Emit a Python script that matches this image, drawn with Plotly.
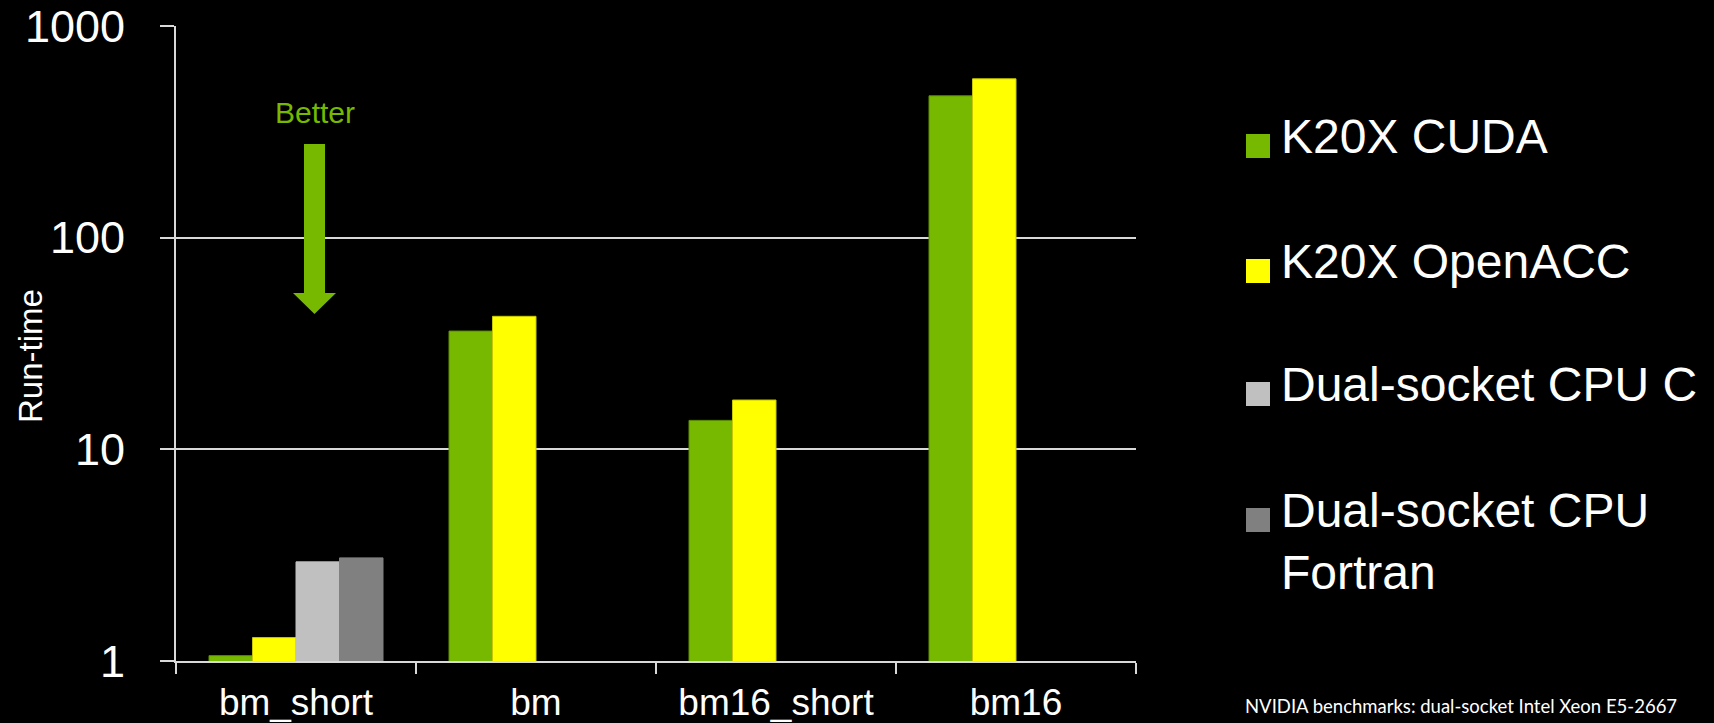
import plotly.graph_objects as go

# ---- data ----
categories = ["bm_short", "bm", "bm16_short", "bm16"]
series_names = ["K20X CUDA", "K20X OpenACC", "Dual-socket CPU C", "Dual-socket CPU<br>Fortran"]
k20x_cuda = [1.06, 36.2, 13.7, 468]
k20x_openacc = [1.29, 42.5, 17.1, 563]
cpu_c = [2.94, None, None, None]
cpu_fortran = [3.07, None, None, None]
y_tick_vals = [1, 10, 100, 1000]
y_tick_text = ["1", "10", "100", "1000"]

colors = ["#76B900", "#FFFF00", "#C0C0C0", "#808080"]
edge_colors = ["#5C9000", "#C8C800", "#C0C0C0", "#808080"]
series_values = [k20x_cuda, k20x_openacc, cpu_c, cpu_fortran]

W, H = 1714, 723
L, R, T, B = 176, 1136, 26, 661
FONT = "Arial, Liberation Sans, sans-serif"
GRID = "#D9D9D9"


def px(x):
    return (x - L) / (R - L)


def py(y):
    return (B - y) / (B - T)


fig = go.Figure()
for name, vals, c, ec in zip(series_names, series_values, colors, edge_colors):
    fig.add_trace(go.Bar(
        x=categories, y=vals, name=name.replace("<br>", " "),
        marker=dict(color=c, line=dict(color=ec, width=1)),
        showlegend=False,
    ))

fig.update_layout(
    width=W, height=H,
    paper_bgcolor="black", plot_bgcolor="black",
    margin=dict(l=L, r=W - R, t=T, b=H - B, pad=0, autoexpand=False),
    barmode="group", bargap=0.275, bargroupgap=0,
    font=dict(family=FONT, color="white"),
    xaxis=dict(
        type="category", range=[-0.5, 3.5], automargin=False,
        tickson="boundaries", ticks="outside", ticklen=11, tickwidth=2, tickcolor=GRID,
        showline=True, linecolor=GRID, linewidth=2, showgrid=False,
        tickfont=dict(size=37, color="white", family=FONT),
        ticklabelstandoff=8,
    ),
    yaxis=dict(
        type="log", range=[0, 3], automargin=False,
        tickvals=y_tick_vals, ticktext=y_tick_text,
        ticks="outside", ticklen=14, tickwidth=2, tickcolor=GRID,
        showgrid=True, gridcolor=GRID, gridwidth=2,
        showline=True, linecolor=GRID, linewidth=2, zeroline=False,
        tickfont=dict(size=45, color="white", family=FONT),
        ticklabelstandoff=26,
    ),
)

# y-axis title
fig.add_annotation(
    text="Run-time", textangle=-90, xref="paper", yref="paper",
    x=px(30), y=py(356), xanchor="center", yanchor="middle", showarrow=False,
    font=dict(size=33, color="white", family=FONT),
)

# "Better" arrow
pts = [(304, 144), (325, 144), (325, 293), (336, 293), (314.5, 314), (293, 293), (304, 293)]
path = "M " + " L ".join(f"{px(x):.5f},{py(y):.5f}" for x, y in pts) + " Z"
fig.add_shape(type="path", xref="paper", yref="paper", path=path,
              fillcolor="#76B900", line=dict(color="#76B900", width=0))
fig.add_annotation(
    text="Better", xref="paper", yref="paper", x=px(315), y=py(112),
    xanchor="center", yanchor="middle", showarrow=False,
    font=dict(size=30, color="#76B900", family=FONT),
)

# legend (manual, from series names/colors)
leg_centers = [146, 271, 394, 520]
for name, c, yc in zip(series_names, colors, leg_centers):
    fig.add_shape(type="rect", xref="paper", yref="paper",
                  x0=px(1246), x1=px(1270), y0=py(yc + 12), y1=py(yc - 12),
                  fillcolor=c, line=dict(width=0))
    fig.add_annotation(
        text=name, xref="paper", yref="paper", x=px(1279), y=py(yc - 38),
        xanchor="left", yanchor="top", align="left", showarrow=False,
        font=dict(size=48, color="white", family=FONT),
    )

# footnote
fig.add_annotation(
    text="NVIDIA benchmarks: dual-socket Intel Xeon E5-2667", xref="paper", yref="paper",
    x=px(1243), y=py(706), xanchor="left", yanchor="middle", showarrow=False,
    font=dict(size=18.5, color="white", family="Lato, DejaVu Sans, sans-serif"),
)

fig.write_html("out.html")
